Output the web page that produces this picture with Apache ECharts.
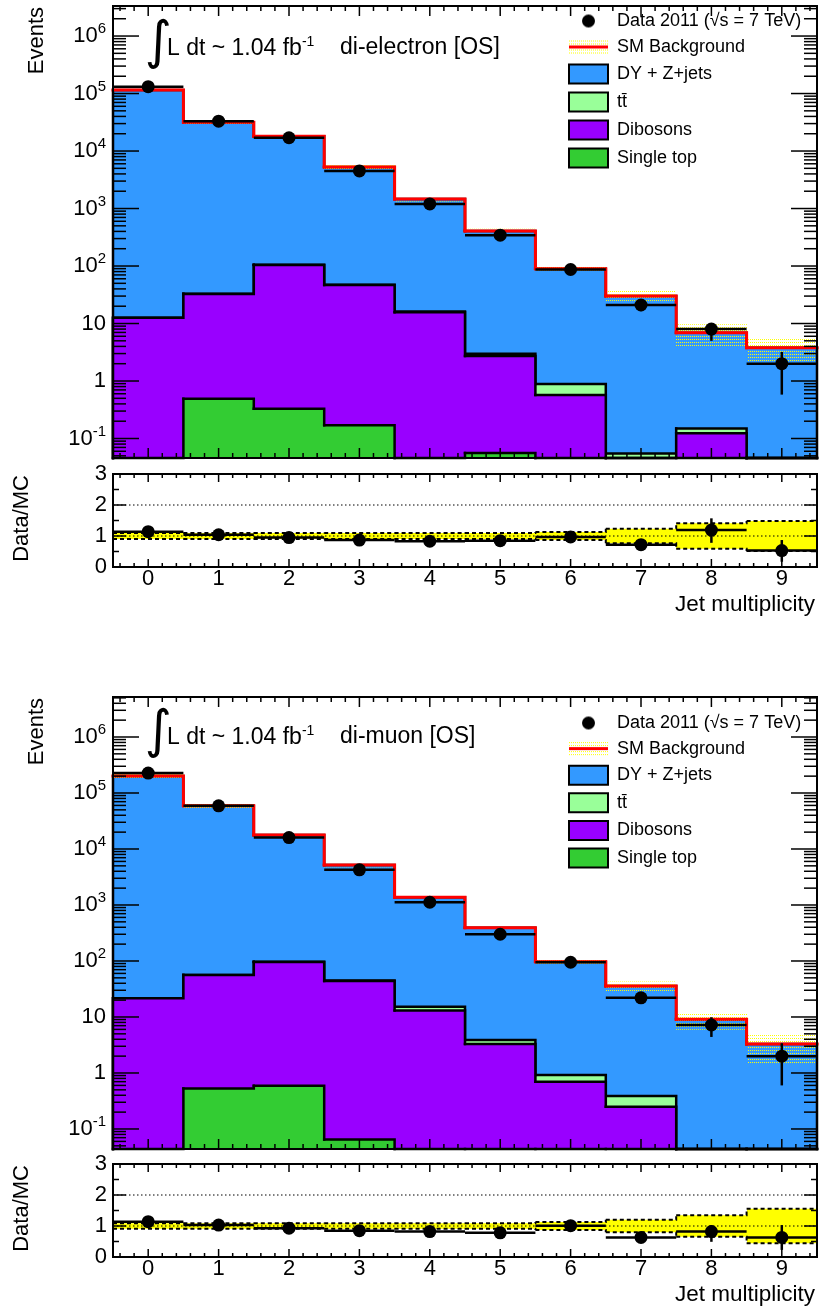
<!DOCTYPE html>
<html>
<head>
<meta charset="utf-8">
<title>Jet multiplicity</title>
<script src="https://cdn.jsdelivr.net/npm/echarts@6.0.0/dist/echarts.min.js"></script>
<style>
html, body { margin: 0; padding: 0; background: #fff; }
#chart { width: 819px; height: 1310px; }
</style>
</head>
<body>
<div id="chart"></div>
<script>
// Jet-multiplicity bins and tick labels
const jetBins = [0, 1, 2, 3, 4, 5, 6, 7, 8, 9];
const eventsTickPowers = [-1, 0, 1, 2, 3, 4, 5, 6];
const ratioTickLabels = [0, 1, 2, 3];

// di-electron [OS]
const eeSingleTop = [0, 0.49, 0.33, 0.17, 0, 0.056, 0, 0, 0, 0];
const eeDibosons  = [12.6, 32.1, 104, 46.5, 15.7, 2.66, 0.57, 0, 0.124, 0];
const eeTTbar     = [0.05, 0.2, 0.5, 0.7, 0.5, 0.25, 0.32, 0.055, 0.026, 0];
const eeDYZjets   = [114990, 31770, 17895, 5252, 1454, 403, 89.1, 29.9, 6.75, 3.8];
const eeData      = [131500, 33000, 17000, 4500, 1200, 344, 87, 21, 8, 2.0];
const eeDataErrLo = [363, 182, 130, 67, 35, 18.5, 9.3, 4.6, 3.0, 1.42];
const eeDataErrHi = [363, 182, 130, 67, 35, 18.5, 9.3, 4.6, 2.2, 1.2];
const eeRatio      = [1.14, 1.04, 0.95, 0.87, 0.83, 0.85, 0.97, 0.72, 1.19, 0.53];
const eeRatioErrLo = [0.004, 0.007, 0.008, 0.015, 0.025, 0.05, 0.1, 0.16, 0.41, 0.36];
const eeRatioErrHi = [0.004, 0.007, 0.008, 0.015, 0.025, 0.05, 0.1, 0.16, 0.38, 0.34];
const eeBkgRelUnc  = [0.1, 0.1, 0.1, 0.1, 0.1, 0.1, 0.13, 0.23, 0.41, 0.48];

// di-muon [OS]
const mmSingleTop = [0, 0.53, 0.59, 0.065, 0, 0, 0, 0, 0, 0];
const mmDibosons  = [21.5, 55.5, 95.4, 44, 13, 3.3, 0.7, 0.25, 0, 0];
const mmTTbar     = [0.1, 0.3, 0.6, 0.9, 2.3, 0.6, 0.22, 0.14, 0, 0];
const mmDYZjets   = [200980, 59240, 17700, 5135, 1355, 389, 96.1, 35.4, 9.1, 3.3];
const mmData      = [227000, 59000, 16000, 4250, 1120, 300, 95, 22, 7.2, 2.0];
const mmDataErrLo = [476, 243, 126, 65, 33, 17.3, 9.7, 4.7, 2.8, 1.4];
const mmDataErrHi = [476, 243, 126, 65, 33, 17.3, 9.7, 4.7, 2.7, 1.4];
const mmRatio      = [1.14, 1.03, 0.93, 0.85, 0.82, 0.78, 1.01, 0.63, 0.82, 0.63];
const mmRatioErrLo = [0.003, 0.005, 0.008, 0.015, 0.025, 0.045, 0.1, 0.14, 0.33, 0.40];
const mmRatioErrHi = [0.003, 0.005, 0.008, 0.015, 0.025, 0.045, 0.1, 0.14, 0.21, 0.40];
const mmBkgRelUnc  = [0.09, 0.09, 0.09, 0.09, 0.09, 0.09, 0.13, 0.2, 0.35, 0.56];

const FONT = '"Liberation Sans", Arial, Helvetica, sans-serif';
const COL = { dy: '#3399ff', tt: '#99ff99', vv: '#9900ff', st: '#33cc33', sm: '#ff0000', unc: '#ffff00' };
const DATA_NAME = 'Data 2011 (\u221As = 7 TeV)';
const TT_NAME = 't\u0074\u0304';
const X_MIN = -0.5, X_MAX = 9.5;
const LEFT = 113, WIDTH = 704, MAIN_H = 452, RATIO_H = 93;

const panels = [
  { channel: 'di-electron [OS]', top: 6, ratioTop: 474, yMin: 0.0458, yMax: 3.33e6,
    st: eeSingleTop, vv: eeDibosons, tt: eeTTbar, dy: eeDYZjets,
    data: eeData, errLo: eeDataErrLo, errHi: eeDataErrHi,
    ratio: eeRatio, rLo: eeRatioErrLo, rHi: eeRatioErrHi, unc: eeBkgRelUnc,
    legendTop: 11.5, legendGap: 7 },
  { channel: 'di-muon [OS]', top: 697, ratioTop: 1164, yMin: 0.0439, yMax: 5.18e6,
    st: mmSingleTop, vv: mmDibosons, tt: mmTTbar, dy: mmDYZjets,
    data: mmData, errLo: mmDataErrLo, errHi: mmDataErrHi,
    ratio: mmRatio, rLo: mmRatioErrLo, rHi: mmRatioErrHi, unc: mmBkgRelUnc,
    legendTop: 713.5, legendGap: 6.6 }
];

// sparse yellow dot tile used for the background-uncertainty hatching
const dotTile = document.createElement('canvas');
dotTile.width = 2; dotTile.height = 3;
(function () { const g = dotTile.getContext('2d'); g.fillStyle = COL.unc; g.fillRect(0, 0, 1, 1); })();
const hatchFill = { image: dotTile, repeat: 'repeat' };

function iconURL(draw) {
  const c = document.createElement('canvas');
  c.width = 39; c.height = 19;
  draw(c.getContext('2d'));
  return 'image://' + c.toDataURL();
}
const dataIcon = iconURL(g => { g.fillStyle = '#000'; g.beginPath(); g.arc(19.5, 9.5, 6.5, 0, 2 * Math.PI); g.fill(); });
const smIcon = iconURL(g => {
  g.fillStyle = g.createPattern(dotTile, 'repeat'); g.fillRect(0, 1, 39, 17);
  g.fillStyle = COL.sm; g.fillRect(0, 8, 39, 3);
});

function xAxisCfg(gridIndex, withLabels) {
  return {
    type: 'value', gridIndex, min: X_MIN, max: X_MAX,
    axisLine: { show: false }, axisTick: { show: false }, splitLine: { show: false },
    axisLabel: withLabels
      ? { show: true, customValues: jetBins, fontSize: 22, color: '#000', margin: 1, fontFamily: FONT }
      : { show: false }
  };
}
function logAxisCfg(gridIndex, yMin, yMax) {
  return {
    type: 'log', logBase: 10, gridIndex, min: yMin, max: yMax,
    axisLine: { show: false }, axisTick: { show: false }, splitLine: { show: false },
    axisLabel: {
      customValues: eventsTickPowers.map(e => Math.pow(10, e)),
      fontSize: 22, color: '#000', margin: 7, fontFamily: FONT,
      formatter: v => {
        const e = Math.round(Math.log10(v));
        return e === 0 ? '1' : e === 1 ? '10' : '10{s|' + e + '}';
      },
      rich: { s: { fontSize: 15, padding: [0, 0, 14, 0], fontFamily: FONT, color: '#000' } }
    }
  };
}
function ratioAxisCfg(gridIndex) {
  return {
    type: 'value', gridIndex, min: 0, max: 3,
    axisLine: { show: false }, axisTick: { show: false }, splitLine: { show: false },
    axisLabel: { customValues: ratioTickLabels, fontSize: 22, color: '#000', margin: 6, fontFamily: FONT }
  };
}

// filled histogram drawn from the axis floor up to the cumulative stack height
function histFill(xi, yi, name, color, tops, yMin, yMax) {
  const clamp = v => Math.min(Math.max(v, yMin), yMax);
  return {
    type: 'custom', name, xAxisIndex: xi, yAxisIndex: yi, silent: true, itemStyle: { color },
    data: jetBins.map((b, k) => [b, clamp(tops[k])]),
    renderItem: (params, api) => {
      const x = api.value(0), v = api.value(1);
      if (v <= yMin * 1.0001) return null;
      const a = api.coord([x - 0.5, v]), b = api.coord([x + 0.5, yMin]);
      const x0 = Math.round(a[0]), x1 = Math.round(b[0]), y0 = Math.round(a[1]), y1 = Math.round(b[1]);
      return { type: 'rect', shape: { x: x0, y: y0, width: x1 - x0, height: y1 - y0 }, style: { fill: color } };
    }
  };
}

// step outline across the bins; optionally dropping to the floor at both ends
function stepLine(xi, yi, vals, floor, ceil, style, dropEnds) {
  const clamp = v => Math.min(Math.max(v, floor), ceil);
  const v = vals.map(clamp);
  const n = v.length;
  return {
    type: 'custom', xAxisIndex: xi, yAxisIndex: yi, silent: true,
    data: v.map((val, k) => [jetBins[k], val, k < n - 1 ? v[k + 1] : (dropEnds ? floor : val)]),
    renderItem: (params, api) => {
      const x = api.value(0), y = api.value(1), next = api.value(2);
      const pts = [];
      if (dropEnds && params.dataIndex === 0) pts.push(api.coord([x - 0.5, floor]));
      pts.push(api.coord([x - 0.5, y]), api.coord([x + 0.5, y]), api.coord([x + 0.5, next]));
      return { type: 'polyline', shape: { points: pts }, style: Object.assign({ fill: 'none', lineCap: 'square' }, style) };
    }
  };
}

// per-bin band between lo and hi
function bandRects(xi, yi, name, lo, hi, fill, floor, ceil) {
  const clamp = v => Math.min(Math.max(v, floor), ceil);
  return {
    type: 'custom', name, xAxisIndex: xi, yAxisIndex: yi, silent: true, itemStyle: { color: COL.unc },
    data: jetBins.map((b, k) => [b, clamp(lo[k]), clamp(hi[k])]),
    renderItem: (params, api) => {
      const x = api.value(0);
      const a = api.coord([x - 0.5, api.value(2)]), b = api.coord([x + 0.5, api.value(1)]);
      const x0 = Math.round(a[0]), x1 = Math.round(b[0]);
      return { type: 'rect', shape: { x: x0, y: a[1], width: x1 - x0, height: b[1] - a[1] }, style: { fill } };
    }
  };
}

// data error bars: full-bin horizontal bar plus vertical statistical error
function errorBars(xi, yi, vals, lo, hi, floor, ceil) {
  const clamp = v => Math.min(Math.max(v, floor), ceil);
  return {
    type: 'custom', xAxisIndex: xi, yAxisIndex: yi, silent: true,
    data: vals.map((v, k) => [jetBins[k], v, clamp(v - lo[k]), clamp(v + hi[k])]),
    renderItem: (params, api) => {
      const x = api.value(0), v = api.value(1);
      const l = api.coord([x - 0.5, v]), r = api.coord([x + 0.5, v]);
      const d = api.coord([x, api.value(2)]), u = api.coord([x, api.value(3)]);
      const st = { stroke: '#000', lineWidth: 2.5 };
      return { type: 'group', children: [
        { type: 'line', shape: { x1: l[0], y1: l[1], x2: r[0], y2: r[1] }, style: st },
        { type: 'line', shape: { x1: d[0], y1: d[1], x2: u[0], y2: u[1] }, style: st }
      ] };
    }
  };
}

function dataPoints(xi, yi, name, vals) {
  return {
    type: 'scatter', name, xAxisIndex: xi, yAxisIndex: yi, silent: true,
    symbol: 'circle', symbolSize: 13, itemStyle: { color: '#000', opacity: 1 },
    data: vals.map((v, k) => [jetBins[k], v])
  };
}

// frame box with inward ticks on all four sides
function frameTicks(xi, yi, yMin, yMax, xTicks, yTicks) {
  return {
    type: 'custom', xAxisIndex: xi, yAxisIndex: yi, silent: true, z: 4,
    data: [[0, yMax]],
    renderItem: (params, api) => {
      const ch = [];
      const seg = (p, q) => ch.push({ type: 'line', shape: { x1: p[0], y1: p[1], x2: q[0], y2: q[1] }, style: { stroke: '#000', lineWidth: 1.5 } });
      xTicks.forEach(([x, len]) => {
        const b = api.coord([x, yMin]), t = api.coord([x, yMax]);
        seg(b, [b[0], b[1] - len]); seg(t, [t[0], t[1] + len]);
      });
      yTicks.forEach(([y, len]) => {
        const l = api.coord([X_MIN, y]), r = api.coord([X_MAX, y]);
        seg(l, [l[0] + len, l[1]]); seg(r, [r[0] - len, r[1]]);
      });
      const tl = api.coord([X_MIN, yMax]), br = api.coord([X_MAX, yMin]);
      ch.push({ type: 'rect', shape: { x: tl[0], y: tl[1], width: br[0] - tl[0], height: br[1] - tl[1] },
        style: { fill: 'none', stroke: '#000', lineWidth: 2 } });
      return { type: 'group', children: ch };
    }
  };
}

function xTickList(major, minor) {
  const out = [];
  for (let k = -2; k <= 47; k++) {
    const x = Math.round(k * 0.2 * 10) / 10;
    if (x <= X_MIN || x >= X_MAX) continue;
    out.push([x, Number.isInteger(x) ? major : minor]);
  }
  return out;
}
function logTickList(yMin, yMax) {
  const out = [];
  for (let e = -3; e <= 7; e++) {
    for (let m = 1; m <= 9; m++) {
      const v = m * Math.pow(10, e);
      if (v > yMin && v < yMax) out.push([v, m === 1 ? 26 : 13]);
    }
  }
  return out;
}

const grid = [], xAxis = [], yAxis = [], series = [], legend = [], graphic = [];

panels.forEach((p, n) => {
  const gm = 2 * n, gr = 2 * n + 1;
  grid.push({ left: LEFT, top: p.top, width: WIDTH, height: MAIN_H });
  grid.push({ left: LEFT, top: p.ratioTop, width: WIDTH, height: RATIO_H });
  xAxis.push(xAxisCfg(gm, false), xAxisCfg(gr, true));
  yAxis.push(logAxisCfg(gm, p.yMin, p.yMax), ratioAxisCfg(gr));

  // cumulative stack: single top at the bottom, DY + Z+jets on top
  const layers = [];
  let running = jetBins.map(() => 0);
  [[p.st, 'Single top', COL.st], [p.vv, 'Dibosons', COL.vv], [p.tt, TT_NAME, COL.tt], [p.dy, 'DY + Z+jets', COL.dy]]
    .forEach(([vals, name, color]) => {
      running = running.map((r, k) => r + vals[k]);
      layers.push({ name, color, tops: running.slice() });
    });
  const total = layers[layers.length - 1].tops;

  // tallest layer first, each lower layer painted over it
  layers.slice().reverse().forEach(l => {
    series.push(histFill(gm, gm, l.name, l.color, l.tops, p.yMin, p.yMax));
    series.push(stepLine(gm, gm, l.tops, p.yMin, p.yMax, { stroke: '#000', lineWidth: 2.5 }, true));
  });

  // SM background with its uncertainty
  series.push(bandRects(gm, gm, 'SM Background',
    total.map((t, k) => t * (1 - p.unc[k])), total.map((t, k) => t * (1 + p.unc[k])), hatchFill, p.yMin, p.yMax));
  series.push(stepLine(gm, gm, total, p.yMin, p.yMax, { stroke: COL.sm, lineWidth: 3 }, false));

  // data
  series.push(errorBars(gm, gm, p.data, p.errLo, p.errHi, p.yMin, p.yMax));
  series.push(dataPoints(gm, gm, DATA_NAME, p.data));
  series.push(frameTicks(gm, gm, p.yMin, p.yMax, xTickList(10, 5), logTickList(p.yMin, p.yMax)));

  // ratio panel
  const bandLo = p.unc.map(u => 1 - u), bandHi = p.unc.map(u => 1 + u);
  series.push(bandRects(gr, gr, 'ratio band', bandLo, bandHi, COL.unc, 0, 3));
  series.push(stepLine(gr, gr, bandHi, 0, 3, { stroke: '#000', lineWidth: 2, lineDash: [4, 3], lineCap: 'butt' }, false));
  series.push(stepLine(gr, gr, bandLo, 0, 3, { stroke: '#000', lineWidth: 2, lineDash: [4, 3], lineCap: 'butt' }, false));
  series.push({
    type: 'custom', xAxisIndex: gr, yAxisIndex: gr, silent: true,
    data: [[X_MIN, 1], [X_MIN, 2]],
    renderItem: (params, api) => {
      const a = api.coord([X_MIN, api.value(1)]), b = api.coord([X_MAX, api.value(1)]);
      return { type: 'line', shape: { x1: a[0], y1: a[1], x2: b[0], y2: b[1] },
        style: { stroke: '#000', lineWidth: 1, lineDash: [1.5, 2.5] } };
    }
  });
  series.push(errorBars(gr, gr, p.ratio, p.rLo, p.rHi, 0, 3));
  series.push(dataPoints(gr, gr, 'ratio', p.ratio));
  series.push(frameTicks(gr, gr, 0, 3, xTickList(8, 4),
    [[0.5, 6], [1, 13], [1.5, 6], [2, 13], [2.5, 6]]));

  legend.push({
    orient: 'vertical', left: 568, top: p.legendTop, padding: 0,
    itemWidth: 39, itemHeight: 19, itemGap: p.legendGap, selectedMode: false,
    textStyle: { fontSize: 18, color: '#000', fontFamily: FONT, padding: [0, 0, 0, 4] },
    data: [
      { name: DATA_NAME, icon: dataIcon, itemStyle: { opacity: 1 } },
      { name: 'SM Background', icon: smIcon },
      { name: 'DY + Z+jets', icon: 'rect', itemStyle: { color: COL.dy, borderColor: '#000', borderWidth: 2 } },
      { name: TT_NAME, icon: 'rect', itemStyle: { color: COL.tt, borderColor: '#000', borderWidth: 2 } },
      { name: 'Dibosons', icon: 'rect', itemStyle: { color: COL.vv, borderColor: '#000', borderWidth: 2 } },
      { name: 'Single top', icon: 'rect', itemStyle: { color: COL.st, borderColor: '#000', borderWidth: 2 } }
    ]
  });

  const dy = n === 0 ? 0 : 689;
  graphic.push(
    { type: 'text', x: 36.5, y: p.top + 1, rotation: Math.PI / 2,
      style: { text: 'Events', fontSize: 22, fontFamily: FONT, fill: '#000', align: 'right', verticalAlign: 'middle' } },
    { type: 'text', x: 21.5, y: p.ratioTop + 1, rotation: Math.PI / 2,
      style: { text: 'Data/MC', fontSize: 22, fontFamily: FONT, fill: '#000', align: 'right', verticalAlign: 'middle' } },
    { type: 'text', x: 815, y: p.ratioTop + RATIO_H + 37.5,
      style: { text: 'Jet multiplicity', fontSize: 22.5, fontFamily: FONT, fill: '#000', align: 'right', verticalAlign: 'middle' } },
    { type: 'text', x: 158, y: 44 + dy,
      style: { text: '\u222B', fontSize: 52, fontFamily: '"DejaVu Sans", sans-serif', fill: '#000', align: 'center', verticalAlign: 'middle' } },
    { type: 'text', x: 167, y: 48.5 + dy,
      style: { text: 'L dt ~ 1.04 fb{s|-1}', fontSize: 23, fontFamily: FONT, fill: '#000', align: 'left', verticalAlign: 'middle',
        rich: { s: { fontSize: 14, fontFamily: FONT, fill: '#000', padding: [0, 0, 12, 0] } } } },
    { type: 'text', x: 340, y: 48 + dy,
      style: { text: p.channel, fontSize: 23, fontFamily: FONT, fill: '#000', align: 'left', verticalAlign: 'middle' } }
  );
});

const chart = echarts.init(document.getElementById('chart'), null, { renderer: 'canvas' });
chart.setOption({
  animation: false,
  backgroundColor: '#fff',
  textStyle: { fontFamily: FONT },
  grid, xAxis, yAxis, legend, graphic, series
});
</script>
</body>
</html>
